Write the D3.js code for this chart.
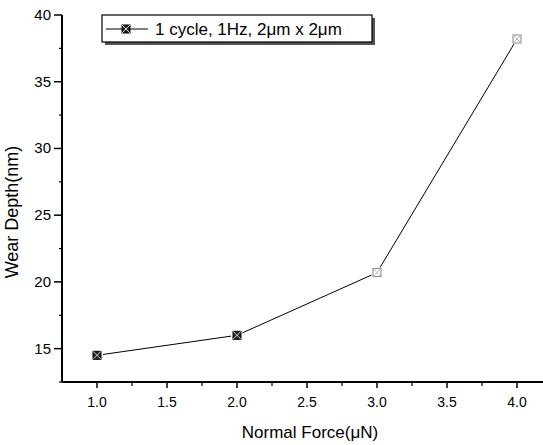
<!DOCTYPE html>
<html>
<head>
<meta charset="utf-8">
<script src="https://cdn.jsdelivr.net/npm/d3@7"></script>
<style>
  body { margin: 0; background: #fff; }
  svg { display: block; font-family: Arial, "Liberation Sans", sans-serif; }
</style>
</head>
<body>
<svg id="chart" width="543" height="445"></svg>
<script>
// data
const forces = [1.0, 2.0, 3.0, 4.0];
const depths = [14.5, 16.0, 20.7, 38.2];
const seriesName = "1 cycle, 1Hz, 2\u03bcm x 2\u03bcm";
const xTicks = [1.0, 1.5, 2.0, 2.5, 3.0, 3.5, 4.0];
const yTicks = [15, 20, 25, 30, 35, 40];

const svg = d3.select("#chart");

let x = d3.scaleLinear().domain([0.75, 4.25]).range([62, 552]);
let y = d3.scaleLinear().domain([12.5, 40]).range([382, 15]);

// y axis
let yAxis = svg.append("g").attr("transform", "translate(62,0)");
yAxis.append("line").attr("y1", y(40)).attr("y2", y(12.5)).attr("stroke", "#000").attr("stroke-width", 2);
yAxis.selectAll(".major").data(yTicks).join("line")
    .attr("x1", -8).attr("x2", 0)
    .attr("y1", d => y(d)).attr("y2", d => y(d))
    .attr("stroke", "#000").attr("stroke-width", 1.5);
yAxis.selectAll(".minor").data(d3.range(12.5, 40, 5)).join("line")
    .attr("x1", -3).attr("x2", 0)
    .attr("y1", d => y(d)).attr("y2", d => y(d))
    .attr("stroke", "#000").attr("stroke-width", 1.2);
yAxis.selectAll("text").data(yTicks).join("text")
    .attr("x", -11).attr("y", d => y(d) + 5)
    .attr("text-anchor", "end").attr("font-size", 15)
    .text(d => d);

// x axis
let xAxis = svg.append("g").attr("transform", "translate(0,382)");
xAxis.append("line").attr("x1", 62).attr("x2", 543).attr("stroke", "#000").attr("stroke-width", 2);
xAxis.selectAll(".major").data(xTicks).join("line")
    .attr("x1", d => x(d)).attr("x2", d => x(d))
    .attr("y1", 0).attr("y2", 6)
    .attr("stroke", "#000").attr("stroke-width", 1.5);
xAxis.selectAll(".minor").data(d3.range(1.25, 4.3, 0.5)).join("line")
    .attr("x1", d => x(d)).attr("x2", d => x(d))
    .attr("y1", 0).attr("y2", 4)
    .attr("stroke", "#000").attr("stroke-width", 1.2);
xAxis.selectAll("text").data(xTicks).join("text")
    .attr("x", d => x(d)).attr("y", 25)
    .attr("text-anchor", "middle").attr("font-size", 14)
    .text(d => d.toFixed(1));

// axis titles
svg.append("text")
    .attr("transform", "translate(18,212) rotate(-90)")
    .attr("text-anchor", "middle").attr("font-size", 18)
    .text("Wear Depth(nm)");
svg.append("text")
    .attr("x", 310).attr("y", 438)
    .attr("text-anchor", "middle").attr("font-size", 17)
    .text("Normal Force(\u03bcN)");

// line, with small gaps at the markers
let pts = forces.map((f, i) => [x(f), y(depths[i])]);
for (let i = 0; i < pts.length - 1; i++) {
    let [x1, y1] = pts[i], [x2, y2] = pts[i + 1];
    let len = Math.hypot(x2 - x1, y2 - y1), gap = 6;
    let ux = (x2 - x1) / len, uy = (y2 - y1) / len;
    svg.append("line")
        .attr("x1", x1 + ux * gap).attr("y1", y1 + uy * gap)
        .attr("x2", x2 - ux * gap).attr("y2", y2 - uy * gap)
        .attr("stroke", "#000").attr("stroke-width", 1);
}

function marker(g, cx, cy, hollow) {
    let s = 4;
    g.append("rect").attr("x", cx - s).attr("y", cy - s).attr("width", 2 * s).attr("height", 2 * s)
        .attr("fill", hollow ? "none" : "#222").attr("stroke", hollow ? "#888" : "#000").attr("stroke-width", 1);
    g.append("path").attr("d", `M${cx - s},${cy - s}L${cx + s},${cy + s}M${cx + s},${cy - s}L${cx - s},${cy + s}`)
        .attr("stroke", hollow ? "#aaa" : "#fff").attr("stroke-width", 0.8);
}
pts.forEach((p, i) => marker(svg, p[0], p[1], i >= 2));

// legend
let lg = svg.append("g");
lg.append("rect").attr("x", 105).attr("y", 18).attr("width", 270).attr("height", 27).attr("fill", "#555");
lg.append("rect").attr("x", 102).attr("y", 15).attr("width", 270).attr("height", 27)
    .attr("fill", "#fff").attr("stroke", "#000").attr("stroke-width", 1.2);
lg.append("line").attr("x1", 106).attr("x2", 148).attr("y1", 29).attr("y2", 29).attr("stroke", "#000").attr("stroke-width", 1.2);
marker(lg, 126, 29, false);
lg.append("text").attr("x", 155).attr("y", 35).attr("font-size", 17).text(seriesName);
</script>
</body>
</html>
